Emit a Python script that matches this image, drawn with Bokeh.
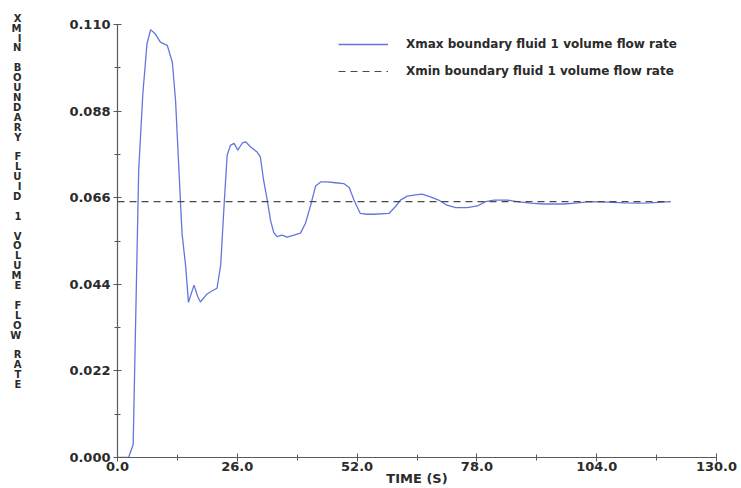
from bokeh.plotting import figure
from bokeh.models import (FixedTicker, PrintfTickFormatter, Legend, LegendItem,
                          Range1d)
from bokeh.embed import file_html
from bokeh.resources import INLINE

# Xmax boundary: fluid 1 volume flow rate over time
time_s = [0.0, 1.2, 2.4, 3.4, 4.6, 5.5, 6.4, 7.2, 8.2, 9.3, 10.8, 11.9, 12.6,
          13.3, 14.0, 14.8, 15.4, 16.6, 17.4, 18.0, 19.3, 20.2, 21.6, 22.4,
          23.2, 23.8, 24.5, 25.3, 26.1, 27.1, 27.8, 28.9, 30.3, 31.0, 31.7,
          32.5, 33.2, 33.9, 34.6, 35.7, 36.8, 38.3, 39.7, 40.8, 41.9, 43.0,
          44.1, 45.5, 47.3, 49.1, 50.3, 51.3, 52.0, 52.7, 54.2, 55.6, 58.9,
          60.3, 61.4, 62.9, 64.7, 66.1, 67.9, 69.7, 71.5, 73.4, 75.9, 78.1,
          79.9, 81.7, 84.6, 86.7, 89.6, 92.5, 96.9, 99.8, 102.6, 106.3, 109.9,
          112.8, 115.7, 120.0]
xmax_flow = [0.0, 0.0, 0.0, 0.0033, 0.0730, 0.0924, 0.1051, 0.1087, 0.1076,
             0.1055, 0.1047, 0.1004, 0.0907, 0.0738, 0.0570, 0.0485, 0.0394,
             0.0438, 0.0409, 0.0395, 0.0414, 0.0421, 0.0430, 0.0490, 0.0654,
             0.0768, 0.0793, 0.0798, 0.0781, 0.0799, 0.0802, 0.0789, 0.0776,
             0.0764, 0.0705, 0.0654, 0.0603, 0.0572, 0.0561, 0.0565, 0.0560,
             0.0565, 0.0570, 0.0595, 0.0640, 0.0690, 0.0700, 0.0700, 0.0698,
             0.0696, 0.0686, 0.0655, 0.0637, 0.0620, 0.0618, 0.0618, 0.0620,
             0.0637, 0.0654, 0.0664, 0.0667, 0.0669, 0.0662, 0.0654, 0.0641,
             0.0635, 0.0635, 0.0639, 0.0650, 0.0654, 0.0654, 0.0650, 0.0646,
             0.0644, 0.0644, 0.0647, 0.0650, 0.0649, 0.0647, 0.0646, 0.0647,
             0.0650]

# Xmin boundary: fluid 1 volume flow rate (constant)
xmin_time = [0.0, 120.0]
xmin_flow = [0.0650, 0.0650]

x_major = [0.0, 26.0, 52.0, 78.0, 104.0, 130.0]
x_minor = [13.0, 39.0, 65.0, 91.0, 117.0]
y_major = [0.000, 0.022, 0.044, 0.066, 0.088, 0.110]
y_minor = [0.011, 0.033, 0.055, 0.077, 0.099]

y_title = "XMIN BOUNDARY FLUID 1 VOLUME FLOW RATE"
x_title = "TIME (S)"
series_names = ["Xmax boundary fluid 1 volume flow rate",
                "Xmin boundary fluid 1 volume flow rate"]

FONT = "DejaVu Sans"
TEXT = "#2b2b2b"
AXIS = "#5a5a5a"

p = figure(width=741, height=488, output_backend="svg", toolbar_location=None,
           x_range=Range1d(0, 130), y_range=Range1d(0, 0.110),
           min_border_left=117, min_border_right=25, min_border_top=24,
           min_border_bottom=30)
p.outline_line_color = None
p.grid.visible = False
p.background_fill_color = "white"
p.border_fill_color = "white"

r_max = p.line(time_s, xmax_flow, line_color="#6375e0", line_width=1.3)
r_min = p.line(xmin_time, xmin_flow, line_color="#4a4a4a", line_width=1.2,
               line_dash="7 5")

for ax, major, minor, fmt in ((p.xaxis[0], x_major, x_minor, "%.1f"),
                              (p.yaxis[0], y_major, y_minor, "%.3f")):
    ax.ticker = FixedTicker(ticks=major, minor_ticks=minor)
    ax.formatter = PrintfTickFormatter(format=fmt)
    ax.axis_line_color = AXIS
    ax.axis_line_width = 1.2
    ax.major_tick_line_color = AXIS
    ax.minor_tick_line_color = AXIS
    ax.major_tick_in = 4
    ax.major_tick_out = 4
    ax.minor_tick_in = 3
    ax.minor_tick_out = 3
    ax.major_label_text_font = FONT
    ax.major_label_text_font_style = "bold"
    ax.major_label_text_font_size = "13px"
    ax.major_label_text_color = TEXT
    ax.axis_label_text_font = FONT
    ax.axis_label_text_font_style = "bold"
    ax.axis_label_text_color = TEXT

p.yaxis.major_label_standoff = 3
p.xaxis.major_label_standoff = 0
p.xaxis.axis_label = x_title
p.xaxis.axis_label_text_font_size = "13px"
p.xaxis.axis_label_standoff = -3

# stacked, upright letters for the vertical quantity title; the trailing
# empty rows lift the column so it starts near the top of the axis
p.yaxis.axis_label = "\n".join(y_title) + "\n" * 8
p.yaxis.axis_label_orientation = "horizontal"
p.yaxis.axis_label_text_font_size = "10px"
p.yaxis.axis_label_text_line_height = 0.9
p.yaxis.axis_label_text_align = "center"
p.yaxis.axis_label_standoff = 45

legend = Legend(items=[LegendItem(label=series_names[0], renderers=[r_max]),
                       LegendItem(label=series_names[1], renderers=[r_min])],
                location=(221, 376), orientation="vertical",
                glyph_width=50, glyph_height=20, label_height=20,
                label_standoff=18, spacing=7, padding=0, margin=0,
                border_line_alpha=0, background_fill_alpha=0,
                label_text_font=FONT, label_text_font_style="bold",
                label_text_font_size="12px", label_text_color=TEXT)
p.add_layout(legend)

open("out.html", "w").write(file_html(p, INLINE))
